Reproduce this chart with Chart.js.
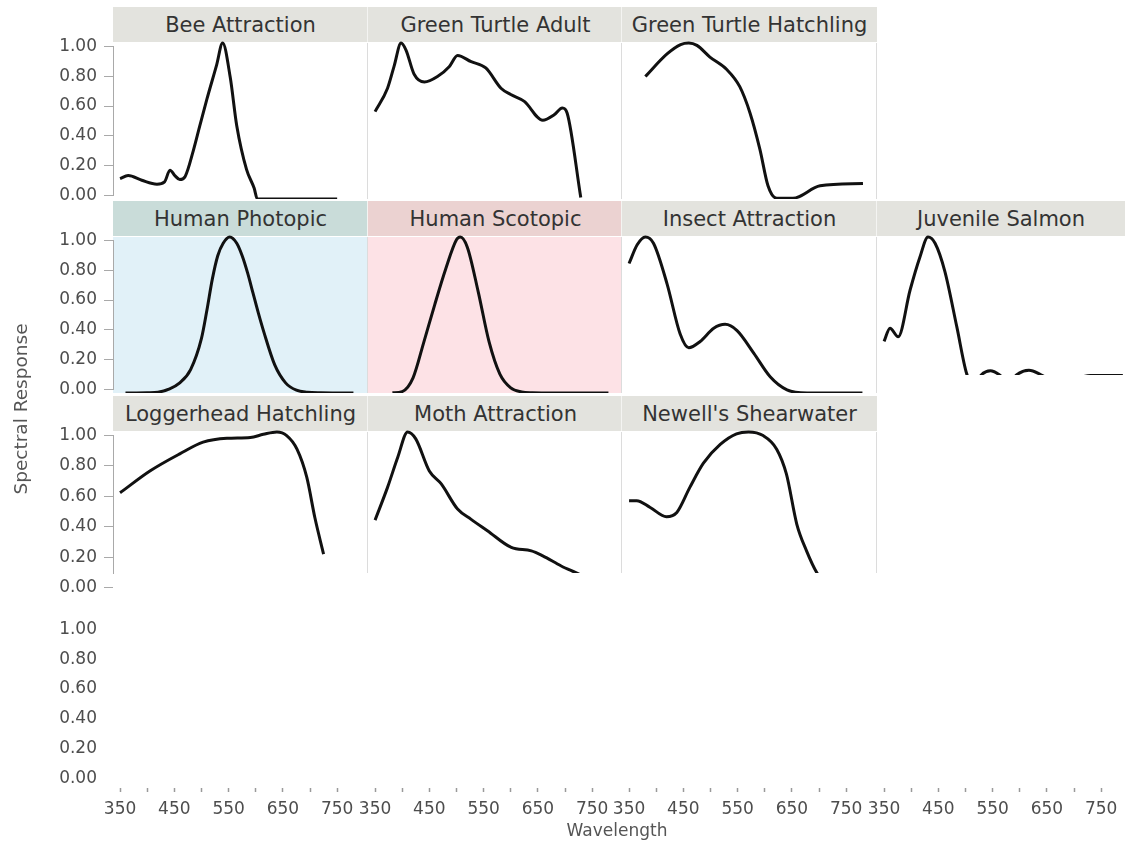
<!DOCTYPE html>
<html>
<head>
<meta charset="utf-8">
<title>Spectral Response by Wavelength</title>
<script src="https://cdn.jsdelivr.net/npm/chart.js@4.4.1/dist/chart.umd.min.js"></script>
<style>
  html, body { margin: 0; padding: 0; background: #ffffff; }
  #stage { position: relative; width: 1125px; height: 842px; overflow: hidden;
           font-family: "DejaVu Sans", "Liberation Sans", sans-serif; }
  #stage > * { position: absolute; }
  .hdr { text-align: center; color: #333333; font-size: 21px; height: 35px; line-height: 37px;
         white-space: nowrap; overflow: hidden; }
  .axis-title { color: #555555; font-size: 17px; white-space: nowrap; }
</style>
</head>
<body>
<div id="stage"></div>
<script>
// ---- Spectral response curves (wavelength in nm, response 0..1) ----
const beeNm   = [350, 365, 390, 418, 432, 442, 451, 460, 470, 485, 497, 510, 528, 539, 553, 565, 583, 597, 603, 750];
const beeResp = [0.13, 0.15, 0.12, 0.095, 0.11, 0.185, 0.15, 0.125, 0.145, 0.31, 0.47, 0.64, 0.86, 1.0, 0.78, 0.47, 0.19, 0.07, 0.0, 0.0];

const turtleAdultNm   = [350, 373, 385, 398, 407, 422, 441, 465, 487, 502, 527, 554, 582, 600, 625, 659, 680, 695, 704, 729];
const turtleAdultResp = [0.56, 0.71, 0.85, 1.0, 0.955, 0.80, 0.75, 0.785, 0.85, 0.92, 0.88, 0.84, 0.71, 0.67, 0.626, 0.505, 0.54, 0.584, 0.55, 0.01];

const turtleHatchNm   = [380, 420, 445, 460, 475, 499, 530, 554, 573, 591, 606, 622, 652, 702, 781];
const turtleHatchResp = [0.785, 0.93, 0.99, 1.0, 0.985, 0.91, 0.83, 0.72, 0.55, 0.32, 0.085, 0.005, 0.005, 0.085, 0.10];

const photopicNm   = [360, 380, 400, 420, 440, 460, 480, 500, 510, 520, 530, 540, 552, 565, 575, 585, 595, 605, 615, 635, 655, 675, 695, 720, 750, 780];
const photopicResp = [0.0, 0.0, 0.001, 0.005, 0.025, 0.065, 0.15, 0.35, 0.53, 0.73, 0.88, 0.96, 1.0, 0.96, 0.88, 0.77, 0.64, 0.51, 0.39, 0.18, 0.065, 0.018, 0.005, 0.001, 0.0, 0.0];

const scotopicNm   = [382, 400, 420, 440, 460, 480, 500, 507, 520, 540, 560, 580, 600, 620, 640, 660, 700, 780];
const scotopicResp = [0.001, 0.009, 0.097, 0.328, 0.567, 0.793, 0.982, 1.0, 0.935, 0.65, 0.329, 0.121, 0.033, 0.0074, 0.0015, 0.0003, 0.0, 0.0];

const insectNm   = [350, 365, 380, 395, 420, 444, 460, 481, 506, 527, 549, 580, 610, 641, 678, 780];
const insectResp = [0.83, 0.95, 1.0, 0.96, 0.70, 0.38, 0.29, 0.33, 0.415, 0.44, 0.40, 0.254, 0.104, 0.02, 0.0, 0.0];

const salmonNm   = [350, 361, 376, 398, 416, 431, 444, 462, 484, 502, 515, 529, 546, 563, 580, 594, 617, 640, 665, 700, 730, 790];
const salmonResp = [0.33, 0.415, 0.36, 0.66, 0.87, 1.0, 0.96, 0.78, 0.425, 0.126, 0.04, 0.115, 0.142, 0.115, 0.06, 0.115, 0.145, 0.115, 0.07, 0.09, 0.111, 0.111];

const loggerheadNm   = [350, 405, 460, 503, 547, 590, 614, 639, 657, 676, 694, 709, 725];
const loggerheadResp = [0.61, 0.75, 0.86, 0.935, 0.96, 0.965, 0.985, 1.0, 0.977, 0.89, 0.71, 0.45, 0.217];

const mothNm   = [350, 373, 392, 410, 425, 450, 472, 502, 527, 557, 601, 638, 659, 693, 720, 750];
const mothResp = [0.435, 0.645, 0.84, 1.0, 0.956, 0.75, 0.667, 0.506, 0.44, 0.367, 0.26, 0.238, 0.206, 0.141, 0.098, 0.05];

const shearwaterNm   = [350, 364, 389, 419, 438, 462, 487, 518, 548, 570, 597, 622, 640, 659, 677, 696, 720];
const shearwaterResp = [0.56, 0.56, 0.516, 0.457, 0.484, 0.645, 0.80, 0.92, 0.988, 1.0, 0.977, 0.89, 0.73, 0.41, 0.238, 0.098, 0.0];

// ---- Axis ticks ----
const yTicks  = [0, 0.2, 0.4, 0.6, 0.8, 1.0];
const xTicks  = [350, 400, 450, 500, 550, 600, 650, 700, 750];
const xLabels = [350, 450, 550, 650, 750];

// ---- Grid geometry ----
const FONT = '"DejaVu Sans", "Liberation Sans", sans-serif';
const X_MIN = 337, X_MAX = 805;
const COL_X = [113, 368, 622, 877];
const COL_W = 254;
const ROW_TOP = [43, 237, 432, 626];
const PLOT_H = 156;
const ROW_CUT = [0, 0, 0.096, 0];      // lower edge of the visible plot band per row
const HDR = '#e3e3de';
const TICK_TEXT = '#4d4d4d';

const panels = [
  { title: 'Bee Attraction',         nm: beeNm,          resp: beeResp,          row: 0, col: 0 },
  { title: 'Green Turtle Adult',     nm: turtleAdultNm,  resp: turtleAdultResp,  row: 0, col: 1 },
  { title: 'Green Turtle Hatchling', nm: turtleHatchNm,  resp: turtleHatchResp,  row: 0, col: 2 },
  { title: 'Human Photopic',         nm: photopicNm,     resp: photopicResp,     row: 1, col: 0, bg: '#e1f1f8', hdr: '#c9dcd9' },
  { title: 'Human Scotopic',         nm: scotopicNm,     resp: scotopicResp,     row: 1, col: 1, bg: '#fde2e6', hdr: '#ebd2d1' },
  { title: 'Insect Attraction',      nm: insectNm,       resp: insectResp,       row: 1, col: 2 },
  { title: 'Juvenile Salmon',        nm: salmonNm,       resp: salmonResp,       row: 1, col: 3, cut: 0.115 },
  { title: 'Loggerhead Hatchling',   nm: loggerheadNm,   resp: loggerheadResp,   row: 2, col: 0 },
  { title: 'Moth Attraction',        nm: mothNm,         resp: mothResp,         row: 2, col: 1 },
  { title: "Newell's Shearwater",    nm: shearwaterNm,   resp: shearwaterResp,   row: 2, col: 2 }
];

const stage = document.getElementById('stage');
function box(css, cls, text) {
  const d = document.createElement('div');
  if (cls) d.className = cls;
  for (const k in css) d.style[k] = typeof css[k] === 'number' ? css[k] + 'px' : css[k];
  if (text) d.textContent = text;
  stage.appendChild(d);
  return d;
}
function canvasAt(left, top, w, h) {
  const c = document.createElement('canvas');
  c.width = w; c.height = h;
  c.style.left = left + 'px'; c.style.top = top + 'px';
  c.style.width = w + 'px'; c.style.height = h + 'px';
  stage.appendChild(c);
  return c;
}
const baseOpts = {
  responsive: false, animation: false, events: [],
  plugins: { legend: { display: false }, tooltip: { enabled: false } }
};

// panel backgrounds, headers and column separators
panels.forEach(p => {
  const cut = p.cut !== undefined ? p.cut : ROW_CUT[p.row];
  const left = COL_X[p.col], top = ROW_TOP[p.row];
  const h = Math.round(PLOT_H * (1 - cut));
  const w = p.col === 3 ? 1125 - left : COL_W + 1;
  box({ left, top, width: w, height: h, background: p.bg || '#ffffff' });
  box({ left, top: top - 36, width: w, background: p.hdr || HDR }, 'hdr', p.title);
  if (p.col < 3) box({ left: COL_X[p.col + 1] - 1, top, width: 1, height: h, background: '#dcdcdc' });
  if (p.col > 0) box({ left: COL_X[p.col] - 1, top, width: 1, height: h, background: '#dcdcdc' });
  if (p.col > 0) box({ left: COL_X[p.col] - 1, top: top - 36, width: 1, height: 35, background: '#f4f4f2' });
});

// one line chart per panel
panels.forEach(p => {
  const cut = p.cut !== undefined ? p.cut : ROW_CUT[p.row];
  const pad = 4;
  const h = Math.round(PLOT_H * (1 - cut));
  const c = canvasAt(COL_X[p.col] - pad, ROW_TOP[p.row] - pad, COL_W + 2 * pad, h + 2 * pad);
  new Chart(c, {
    type: 'line',
    data: { datasets: [{
      data: p.nm.map((x, i) => ({ x, y: p.resp[i] })),
      borderColor: '#111111', borderWidth: 3, pointRadius: 0,
      cubicInterpolationMode: 'monotone', fill: false,
      clip: { left: pad, right: pad, top: pad, bottom: 0 }
    }] },
    options: Object.assign({}, baseOpts, {
      layout: { padding: pad },
      scales: {
        x: { type: 'linear', min: X_MIN, max: X_MAX, display: false },
        y: { type: 'linear', min: cut, max: 1, display: false }
      }
    })
  });
});

// y axis per row
for (let r = 0; r < 4; r++) {
  const cut = ROW_CUT[r];
  const showLine = r < 3;
  const cutPx = Math.round(PLOT_H * cut);
  const padT = 14, padB = 14 + cutPx;
  const c = canvasAt(0, ROW_TOP[r] - padT, 121, PLOT_H + 28);
  new Chart(c, {
    type: 'line',
    data: { datasets: [] },
    options: Object.assign({}, baseOpts, {
      layout: { padding: { top: padT, bottom: padB, left: 0, right: 0 } },
      scales: {
        x: { type: 'linear', min: 0, max: 1, display: false },
        y: {
          type: 'linear', min: cut, max: 1, position: 'left',
          afterFit: s => { s.width = 113; },
          afterBuildTicks: s => { s.ticks = yTicks.map(v => ({ value: v })); },
          ticks: { autoSkip: false, padding: 7, color: TICK_TEXT,
                   font: { family: FONT, size: 17 }, callback: v => Number(v).toFixed(2) },
          grid: { drawOnChartArea: false, tickLength: 9, tickWidth: 1,
                  color: showLine ? '#a9a9a9' : 'rgba(0,0,0,0)' },
          border: { display: showLine, color: '#a9a9a9', width: 1 }
        }
      }
    })
  });
}

// x axis under each column
for (let col = 0; col < 4; col++) {
  const padX = 22, areaH = 10, axisH = 40;
  const c = canvasAt(COL_X[col] - padX, ROW_TOP[3] + PLOT_H - areaH, COL_W + 2 * padX, areaH + axisH);
  new Chart(c, {
    type: 'line',
    data: { datasets: [] },
    options: Object.assign({}, baseOpts, {
      layout: { padding: { top: 0, bottom: 0, left: padX, right: padX } },
      scales: {
        y: { type: 'linear', min: 0, max: 1, display: false },
        x: {
          type: 'linear', min: X_MIN, max: X_MAX, position: 'bottom',
          afterFit: s => { s.height = axisH; },
          afterBuildTicks: s => { s.ticks = xTicks.map(v => ({ value: v })); },
          ticks: { autoSkip: false, maxRotation: 0, padding: 7, color: TICK_TEXT,
                   font: { family: FONT, size: 17 },
                   callback: v => xLabels.includes(v) ? String(v) : '' },
          grid: { drawOnChartArea: false, tickLength: 10, tickWidth: 1.5,
                  tickBorderDash: [0, 6, 4, 0], color: '#9a9a9a' },
          border: { display: false }
        }
      }
    })
  });
}

// axis titles
box({ left: 519, top: 820, width: 196, textAlign: 'center' }, 'axis-title', 'Wavelength');
box({ left: 21 - 100, top: 409 - 11, width: 200, height: 22, lineHeight: '22px', fontSize: '18.5px',
      textAlign: 'center', transform: 'rotate(-90deg)' }, 'axis-title', 'Spectral Response');
</script>
</body>
</html>
